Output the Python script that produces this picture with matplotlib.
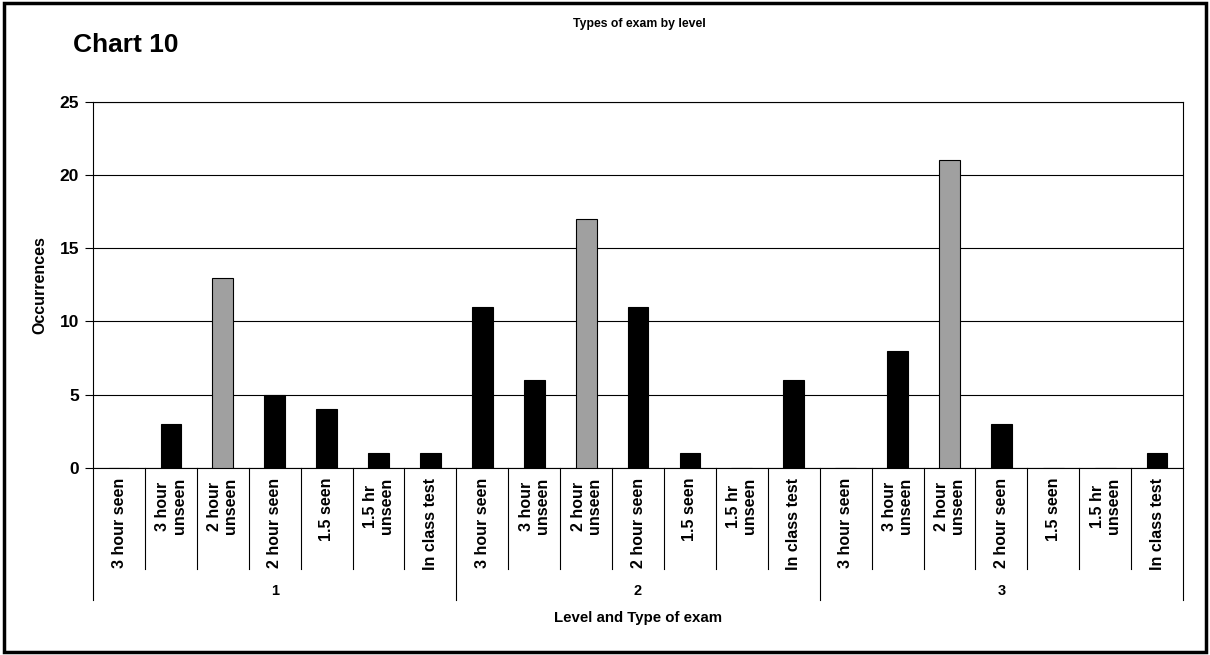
import matplotlib.pyplot as plt
import matplotlib.patches as patches
import matplotlib.transforms as transforms

plt.rcParams['font.family'] = ['Liberation Sans', 'DejaVu Sans']
plt.rcParams['font.weight'] = 'bold'

# data
levels = ['1', '2', '3']
exam_types = ['3 hour seen', '3 hour\nunseen', '2 hour\nunseen', '2 hour seen',
              '1.5 seen', '1.5 hr\nunseen', 'In class test']
level1 = [0, 3, 13, 5, 4, 1, 1]
level2 = [11, 6, 17, 11, 1, 0, 6]
level3 = [0, 8, 21, 3, 0, 0, 1]

values = level1 + level2 + level3
labels = exam_types * len(levels)
colors = ['#a0a0a0' if t == '2 hour\nunseen' else 'black' for t in labels]
n = len(values)
x = list(range(n))

fig = plt.figure(figsize=(12.1, 6.55), dpi=100)
ax = fig.add_axes([0.0769, 0.286, 0.9008, 0.5583])

ax.bar(x, values, width=0.4, color=colors, edgecolor='black', linewidth=0.8, zorder=3)

ax.set_xlim(-0.5, n - 0.5)
ax.set_ylim(0, 25)
ax.set_yticks([0, 5, 10, 15, 20, 25])
ax.yaxis.grid(True, color='black', linewidth=0.8, zorder=0)
ax.tick_params(axis='y', labelsize=12.5, length=6, width=0.8, direction='out', pad=4)
for s in ax.spines.values():
    s.set_linewidth(0.8)
    s.set_color('black')
ax.set_xticks([])

# multi-level category axis
trans = transforms.blended_transform_factory(ax.transData, ax.transAxes)
for i, lab in enumerate(labels):
    ax.text(i, -0.028, lab, transform=trans, rotation=90, ha='center', va='top',
            multialignment='center', fontsize=11.5, fontweight='bold', linespacing=1.1)
group_size = len(exam_types)
for k in range(n + 1):
    bottom = -0.362 if k % group_size == 0 else -0.277
    ax.plot([k - 0.5, k - 0.5], [0, bottom], transform=trans, color='black',
            linewidth=0.8, clip_on=False)
for g, lev in enumerate(levels):
    ax.text(g * group_size + (group_size - 1) / 2, -0.337, lev, transform=trans,
            ha='center', va='center', fontsize=10.5, fontweight='bold')

ax.text(0.5, -0.41, 'Level and Type of exam', transform=ax.transAxes,
        ha='center', va='center', fontsize=10.8, fontweight='bold')
fig.text(0.033, 0.565, 'Occurrences', rotation=90, ha='center', va='center',
         fontsize=11.5, fontweight='bold')

fig.text(0.06, 0.931, 'Chart 10', ha='left', va='center', fontsize=19, fontweight='bold')
fig.text(0.528, 0.963, 'Types of exam by level', ha='center', va='center',
         fontsize=8.8, fontweight='bold')

# outer frame
fig.patches.append(patches.Rectangle((0.003, 0.004), 0.994, 0.992, transform=fig.transFigure,
                                     fill=False, edgecolor='black', linewidth=2.5))

plt.savefig('out.png', dpi=100)
